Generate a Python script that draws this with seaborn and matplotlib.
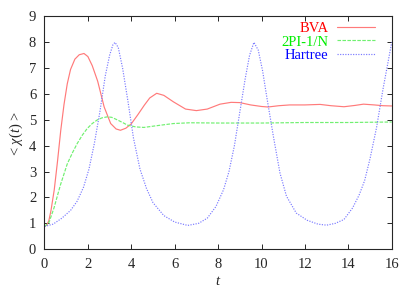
import numpy as np
import pandas as pd
import matplotlib
matplotlib.use("Agg")
import matplotlib.pyplot as plt
import seaborn as sns

# values
t_bva = [0, 0.1, 0.2, 0.3, 0.45, 0.6, 0.75, 0.9, 1.05, 1.2, 1.4, 1.6, 1.82, 2.0, 2.2,
         2.45, 2.75, 3.05, 3.3, 3.5, 3.75, 4.0, 4.3, 4.6, 4.85, 5.17, 5.5, 5.94, 6.5,
         7.0, 7.5, 8.09, 8.6, 9.0, 9.5, 10.0, 10.3, 10.8, 11.3, 12.0, 12.7, 13.2, 13.8,
         14.3, 14.7, 15.2, 15.6, 16.0]
chi_bva = [0.88, 0.93, 1.1, 1.5, 2.3, 3.4, 4.6, 5.6, 6.4, 6.95, 7.35, 7.52, 7.57, 7.45, 7.1,
           6.5, 5.5, 4.86, 4.65, 4.6, 4.68, 4.85, 5.2, 5.57, 5.85, 6.03, 5.95, 5.7, 5.42,
           5.36, 5.42, 5.61, 5.68, 5.67, 5.58, 5.52, 5.5, 5.55, 5.58, 5.58, 5.6, 5.55, 5.51,
           5.56, 5.61, 5.58, 5.55, 5.54]

t_2pi = [0, 0.21, 0.44, 0.74, 1.05, 1.3, 1.51, 1.75, 1.97, 2.2, 2.43, 2.65, 2.9, 3.1,
         3.36, 3.6, 3.82, 4.2, 4.58, 5.2, 5.94, 6.7, 8.0, 10.0, 12.0, 14.0, 16.0]
chi_2pi = [0.88, 1.04, 1.6, 2.5, 3.3, 3.75, 4.09, 4.42, 4.67, 4.86, 5.0, 5.08, 5.12, 5.1,
           5.0, 4.9, 4.8, 4.73, 4.71, 4.78, 4.86, 4.89, 4.88, 4.88, 4.9, 4.9, 4.92]

t_hartree = [0, 0.4, 0.8, 1.2, 1.5, 1.8, 2.05, 2.3, 2.55, 2.8, 3.0, 3.15, 3.25, 3.4, 3.6,
             3.85, 4.1, 4.4, 4.7, 5.0, 5.5, 6.0, 6.6, 7.1, 7.5, 7.9, 8.25, 8.5, 8.75, 9.0,
             9.25, 9.45, 9.65, 9.85, 10.05, 10.25, 10.55, 10.85, 11.15, 11.6, 12.1, 12.6,
             13.0, 13.4, 13.8, 14.2, 14.5, 14.75, 15.0, 15.3, 15.6, 15.8, 16.0]
chi_hartree = [0.88, 0.97, 1.2, 1.5, 1.85, 2.4, 3.1, 4.1, 5.3, 6.7, 7.5, 7.9, 8.0, 7.8, 7.0,
               5.7, 4.3, 3.1, 2.35, 1.8, 1.3, 1.05, 0.92, 1.0, 1.2, 1.65, 2.3, 3.0, 4.0, 5.3,
               6.6, 7.5, 8.0, 7.7, 6.9, 5.85, 4.35, 2.95, 2.05, 1.4, 1.12, 0.97,
               0.93, 1.0, 1.15, 1.6, 2.1, 2.65, 3.5, 4.7, 6.2, 7.1, 8.0]

labels = ["BVA", "2PI-1/N", "Hartree"]
x_ticks = list(range(0, 17, 2))
y_ticks = list(range(0, 10))

sns.set_style("ticks")
plt.rcParams["font.family"] = "serif"
plt.rcParams["font.serif"] = ["Liberation Serif", "DejaVu Serif"]
plt.rcParams["mathtext.fontset"] = "custom"
plt.rcParams["mathtext.rm"] = "Liberation Serif"
plt.rcParams["mathtext.it"] = "Liberation Serif:italic"

fig = plt.figure(figsize=(4.15, 2.91), dpi=100)
ax = fig.add_axes([0.1072, 0.1436, 0.8367, 0.7997])

df_bva = pd.DataFrame({"t": t_bva, "chi": chi_bva})
df_2pi = pd.DataFrame({"t": t_2pi, "chi": chi_2pi})
df_h = pd.DataFrame({"t": t_hartree, "chi": chi_hartree})

line_colors = ["#ff7a7a", "#70f070", "#7a7aff"]
text_colors = ["#ff0000", "#00ee00", "#0000ff"]

sns.lineplot(data=df_bva, x="t", y="chi", ax=ax, color=line_colors[0], lw=0.85,
             label=labels[0], sort=False)
sns.lineplot(data=df_2pi, x="t", y="chi", ax=ax, color=line_colors[1], lw=0.85,
             label=labels[1], sort=False)
sns.lineplot(data=df_h, x="t", y="chi", ax=ax, color=line_colors[2], lw=0.85,
             label=labels[2], sort=False)
ax.lines[1].set_dashes((3, 1.2))
ax.lines[2].set_dashes((1, 1.2))

ax.set_xlim(0, 16)
ax.set_ylim(0, 9)
ax.set_xticks(x_ticks)
ax.set_yticks(y_ticks)
ax.tick_params(direction="in", length=3.5, width=0.7, labelsize=10.5,
               top=True, right=True, pad=6)
for s in ax.spines.values():
    s.set_linewidth(0.8)

ax.set_xlabel("$t$", fontsize=10.5, labelpad=3)
ax.set_ylabel(r"< $\chi$($t$) >", fontsize=10.5, labelpad=3)

leg = ax.legend(loc="upper right", bbox_to_anchor=(0.953, 0.976), frameon=False,
                markerfirst=False, fontsize=10.5,
                handlelength=2.6, handletextpad=0.6, labelspacing=0.0,
                borderaxespad=0, borderpad=0)
for h, txt, c in zip(leg.get_lines(), leg.get_texts(), text_colors):
    h.set_linewidth(0.85)
    txt.set_color(c)

fig.savefig("out.png", dpi=100)
